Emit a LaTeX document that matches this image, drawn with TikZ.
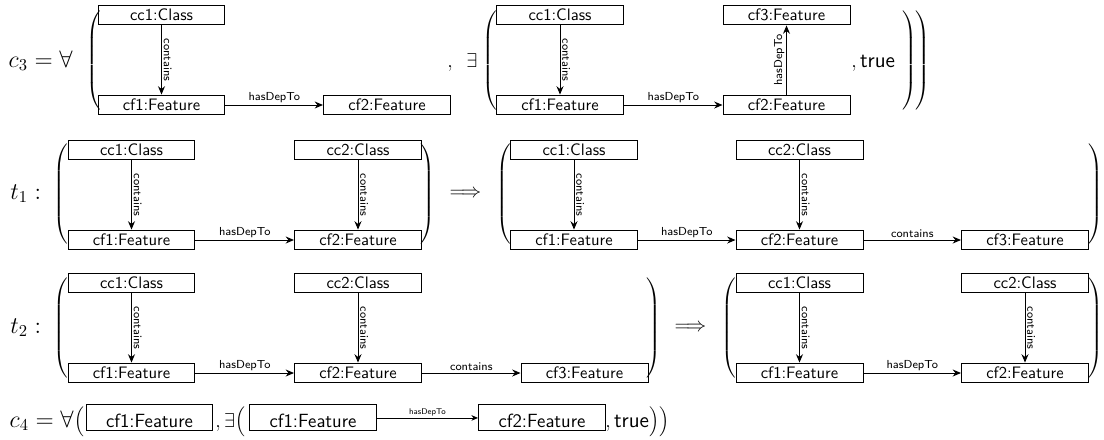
\documentclass[tikz,border=0pt]{standalone}
\usetikzlibrary{arrows.meta}
\delimiterfactor=1000
\delimitershortfall=0pt
\newcommand\myLP[1]{\scalebox{1}[0.91]{$\left(\vcenter{\hbox{\vrule height #1 width 0pt}}\right.$}}
\newcommand\myRP[1]{\scalebox{1}[0.91]{$\left.\vcenter{\hbox{\vrule height #1 width 0pt}}\right)$}}
\begin{document}
\begin{tikzpicture}[x=0.6024pt, y=-0.6024pt,
 box/.style={draw, line width=0.6pt, minimum width=76.5pt, minimum height=12pt, inner sep=0pt, font=\sffamily},
 sbox/.style={draw, line width=0.6pt, minimum width=76.5pt, inner xsep=0pt, inner ysep=0pt, text height=13.3pt, text depth=2.4pt, anchor=base, font=\sffamily\fontsize{11.5}{14}\selectfont},
 arr/.style={-{Stealth[length=5pt,width=4.2pt]}, line width=0.6pt},
 sarr/.style={-{Stealth[length=4pt,width=3.4pt]}, line width=0.5pt},
 lbl/.style={font=\sffamily\scriptsize, inner sep=1pt},
 slbl/.style={font=\sffamily\tiny, inner sep=1pt},
 mth/.style={font=\fontsize{13}{15.6}\selectfont, inner sep=0pt},
 bigmth/.style={font=\fontsize{14.4}{17.28}\selectfont, inner sep=0pt},
 paren/.style={inner sep=0pt}]
\useasboundingbox (0,0) rectangle (1104,439);

% ---------- row 1: c3
\node[bigmth, anchor=base east] (c3) at (73,67) {$c_3 = \forall$};
\node[paren, anchor=west] (r1p1) at (86,60.5) {\myLP{64pt}};
\node[box] (r1a) at (161.5,15) {cc1:Class};
\node[box] (r1b) at (161.5,105) {cf1:Feature};
\node[box] (r1c) at (387,105) {cf2:Feature};
\draw[arr] (r1a) -- node[lbl, sloped, above] {contains} (r1b);
\draw[arr] (r1b) -- node[lbl, above] {hasDepTo} (r1c);
\node[mth, anchor=base west] (r1comma) at (447,67) {$,$};
\node[mth, anchor=base west] (r1ex) at (466,67) {$\exists$};
\node[paren, anchor=west] (r1p2) at (482,60.5) {\myLP{64pt}};
\node[box] (r1d) at (560,15) {cc1:Class};
\node[box] (r1e) at (560,105) {cf1:Feature};
\node[box] (r1f) at (786.5,105) {cf2:Feature};
\node[box] (r1g) at (786.5,15) {cf3:Feature};
\draw[arr] (r1d) -- node[lbl, sloped, above] {contains} (r1e);
\draw[arr] (r1e) -- node[lbl, above] {hasDepTo} (r1f);
\draw[arr] (r1f) -- node[lbl, sloped, above] {hasDepTo} (r1g);
\node[mth, anchor=base west] (r1true) at (851,67) {$,\textsf{true}$};
\node[paren, anchor=east] (r1p3) at (917,60.5) {\myRP{64pt}};
\node[paren, anchor=east] (r1p4) at (930,60.5) {\myRP{64pt}};

% ---------- row 2: t1
\node[bigmth, anchor=base west] (t1) at (10,199.4) {$t_1 :$};
\node[paren, anchor=west] (r2p1) at (53,194) {\myLP{64pt}};
\node[box] (r2a) at (131.5,150) {cc1:Class};
\node[box] (r2b) at (131.5,240) {cf1:Feature};
\node[box] (r2c) at (358,150) {cc2:Class};
\node[box] (r2d) at (358,240) {cf2:Feature};
\draw[arr] (r2a) -- node[lbl, sloped, above] {contains} (r2b);
\draw[arr] (r2c) -- node[lbl, sloped, above] {contains} (r2d);
\draw[arr] (r2b) -- node[lbl, above] {hasDepTo} (r2d);
\node[paren, anchor=east] (r2p2) at (435,194) {\myRP{64pt}};
\node[mth] (r2imp) at (465.5,194) {$\Longrightarrow$};
\node[paren, anchor=west] (r2p3) at (496,194) {\myLP{64pt}};
\node[box] (r2e) at (574,150) {cc1:Class};
\node[box] (r2f) at (574,240) {cf1:Feature};
\node[box] (r2g) at (799.5,150) {cc2:Class};
\node[box] (r2h) at (799.5,240) {cf2:Feature};
\node[box] (r2i) at (1025,240) {cf3:Feature};
\draw[arr] (r2e) -- node[lbl, sloped, above] {contains} (r2f);
\draw[arr] (r2g) -- node[lbl, sloped, above] {contains} (r2h);
\draw[arr] (r2f) -- node[lbl, above] {hasDepTo} (r2h);
\draw[arr] (r2h) -- node[lbl, above] {contains} (r2i);
\node[paren, anchor=east] (r2p4) at (1103,194) {\myRP{64pt}};

% ---------- row 3: t2
\node[bigmth, anchor=base west] (t2) at (10,333.4) {$t_2 :$};
\node[paren, anchor=west] (r3p1) at (53,328) {\myLP{64pt}};
\node[box] (r3a) at (131.5,283) {cc1:Class};
\node[box] (r3b) at (131.5,373) {cf1:Feature};
\node[box] (r3c) at (358,283) {cc2:Class};
\node[box] (r3d) at (358,373) {cf2:Feature};
\node[box] (r3e) at (584.5,373) {cf3:Feature};
\draw[arr] (r3a) -- node[lbl, sloped, above] {contains} (r3b);
\draw[arr] (r3c) -- node[lbl, sloped, above] {contains} (r3d);
\draw[arr] (r3b) -- node[lbl, above] {hasDepTo} (r3d);
\draw[arr] (r3d) -- node[lbl, above] {contains} (r3e);
\node[paren, anchor=east] (r3p2) at (661,328) {\myRP{64pt}};
\node[mth] (r3imp) at (690.5,328) {$\Longrightarrow$};
\node[paren, anchor=west] (r3p3) at (721,328) {\myLP{64pt}};
\node[box] (r3f) at (799.5,283) {cc1:Class};
\node[box] (r3g) at (799.5,373) {cf1:Feature};
\node[box] (r3h) at (1025,283) {cc2:Class};
\node[box] (r3i) at (1025,373) {cf2:Feature};
\draw[arr] (r3f) -- node[lbl, sloped, above] {contains} (r3g);
\draw[arr] (r3h) -- node[lbl, sloped, above] {contains} (r3i);
\draw[arr] (r3g) -- node[lbl, above] {hasDepTo} (r3i);
\node[paren, anchor=east] (r3p4) at (1103,328) {\myRP{64pt}};

% ---------- row 4: c4
\node[bigmth, anchor=base east] (c4) at (74,427) {$c_4 = \forall$};
\node[mth, anchor=base west] (c4p) at (74,427) {$\Bigl($};
\node[sbox] (r4a) at (149.5,427) {cf1:Feature};
\node[mth, anchor=base west] (r4ex) at (215,427) {$,\exists\Bigl($};
\node[sbox] (r4b) at (313,427) {cf1:Feature};
\node[sbox] (r4c) at (542,427) {cf2:Feature};
\draw[sarr] (r4b) -- node[slbl, above] {hasDepTo} (r4c);
\node[mth, anchor=base west] (r4true) at (605,427) {$,\textsf{true}\Bigr)\Bigr)$};
\end{tikzpicture}
\end{document}
